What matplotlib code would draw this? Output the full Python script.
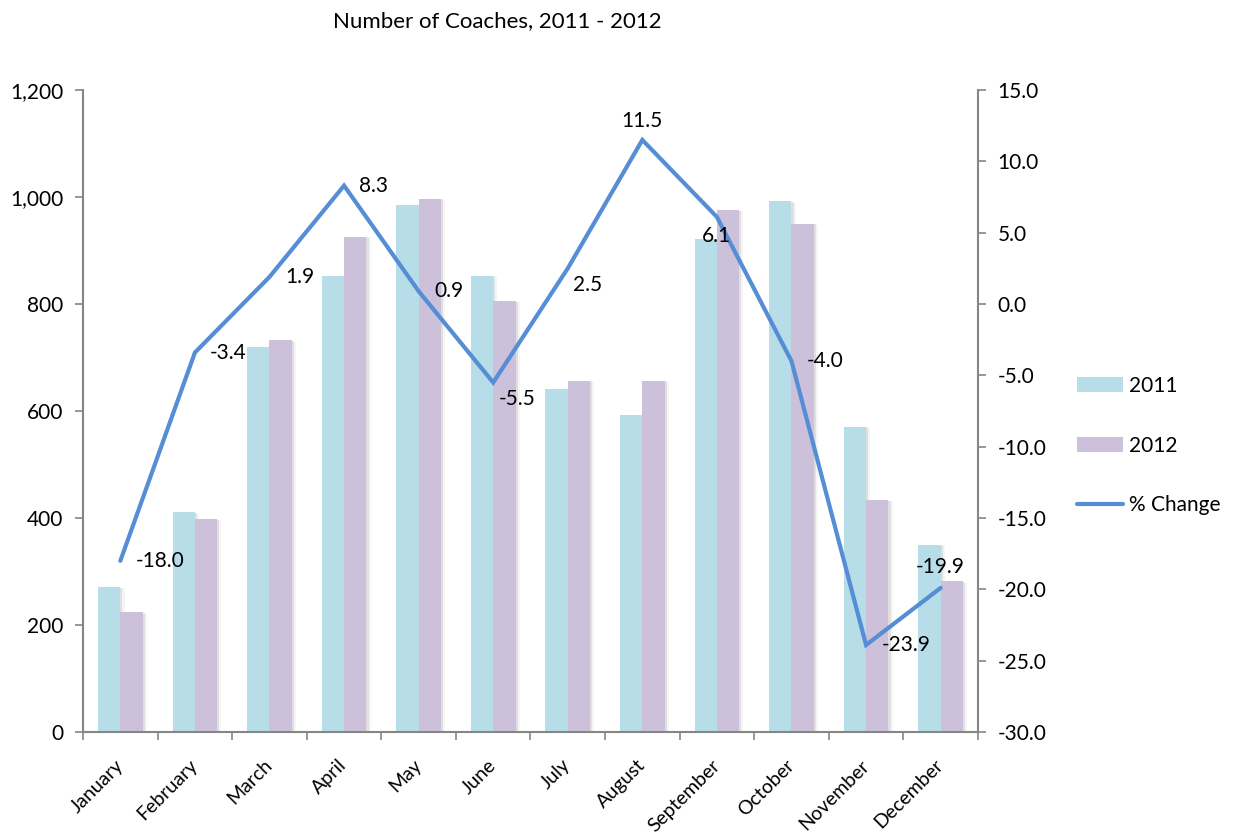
import matplotlib
matplotlib.use("Agg")
import matplotlib.pyplot as plt
import matplotlib.patheffects as pe
from matplotlib.patches import Patch
from matplotlib.lines import Line2D
from matplotlib.ticker import FuncFormatter, MultipleLocator
import numpy as np

plt.rcParams["font.family"] = ["Lato", "DejaVu Sans"]

# ---- data ----
months = ["January", "February", "March", "April", "May", "June", "July",
          "August", "September", "October", "November", "December"]
coaches_2011 = [271, 411, 719, 853, 986, 853, 641, 592, 921, 992, 571, 350]
coaches_2012 = [224, 398, 732, 926, 997, 806, 657, 657, 976, 950, 434, 282]
pct_change = [-18.0, -3.4, 1.9, 8.3, 0.9, -5.5, 2.5, 11.5, 6.1, -4.0, -23.9, -19.9]

# label offsets (points) relative to each line point
label_offsets = [(11, 0), (11, 0), (11, 0), (11, 0), (11, 0), (4, -12),
                 (4, -12), (0, 14), (0, -14), (11, 0), (11, 0), (0, 15)]
label_ha = ["left", "left", "left", "left", "left", "left",
            "left", "center", "center", "left", "left", "center"]

c2011 = "#B7DDE8"
c2012 = "#CCC0DA"
cline = "#558ED5"
axis_gray = "#868686"
fs = 15

fig = plt.figure(figsize=(12.36, 8.39), dpi=100)
ax = fig.add_axes([0.0672, 0.1275, 0.7240, 0.7652])
ax2 = ax.twinx()

x = np.arange(len(months))
w = 0.30
shadow = [pe.SimplePatchShadow(offset=(1.5, -0.5), shadow_rgbFace="#808080", alpha=0.18),
          pe.SimplePatchShadow(offset=(3.0, -1.0), shadow_rgbFace="#808080", alpha=0.08),
          pe.Normal()]
b1 = ax.bar(x - w / 2, coaches_2011, w, color=c2011, zorder=2)
b2 = ax.bar(x + w / 2, coaches_2012, w, color=c2012, zorder=2)
for r in list(b1) + list(b2):
    r.set_path_effects(shadow)

ax.set_xlim(-0.5, len(months) - 0.5)
ax.set_ylim(0, 1200)
ax.yaxis.set_major_locator(MultipleLocator(200))
ax.yaxis.set_major_formatter(FuncFormatter(lambda v, p: f"{v:,.0f}"))

ax2.plot(x, pct_change, color=cline, lw=3.0, solid_capstyle="round",
         solid_joinstyle="miter", zorder=3)
ax2.set_ylim(-30, 15)
ax2.yaxis.set_major_locator(MultipleLocator(5))
ax2.yaxis.set_major_formatter(FuncFormatter(lambda v, p: f"{v:.1f}"))

for xi, v, off, ha in zip(x, pct_change, label_offsets, label_ha):
    ax2.annotate(f"{v:.1f}", (xi, v), xytext=off, textcoords="offset points",
                 ha=ha, va="center", fontsize=fs, color="black")

# spines / ticks
for a in (ax, ax2):
    for s in a.spines.values():
        s.set_visible(False)
    a.tick_params(colors=axis_gray, labelcolor="black", labelsize=fs,
                  length=6, width=1.2, direction="out")
ax.spines["left"].set_visible(True)
ax.spines["bottom"].set_visible(True)
ax2.spines["right"].set_visible(True)
for s in (ax.spines["left"], ax.spines["bottom"], ax2.spines["right"]):
    s.set_color(axis_gray)
    s.set_linewidth(1.5)

ax.set_xticks(np.arange(-0.5, len(months), 1.0))
ax.set_xticklabels([])
ax.set_xticks(x, minor=True)
ax.set_xticklabels(months, minor=True, rotation=45, ha="right", va="center",
                   rotation_mode="anchor", fontsize=14)
ax.tick_params(axis="x", which="minor", length=0, pad=22)
ax.tick_params(axis="y", pad=8)
ax2.tick_params(axis="y", pad=8)

ax.set_zorder(ax2.get_zorder() - 1)
ax.patch.set_visible(False)

fig.text(0.402, 0.975, "Number of Coaches, 2011 - 2012", ha="center",
         va="center", fontsize=16)

handles = [Patch(facecolor=c2011, edgecolor="none"),
           Patch(facecolor=c2012, edgecolor="none"),
           Line2D([0], [0], color=cline, lw=3.0, solid_capstyle="round")]
fig.legend(handles, ["2011", "2012", "% Change"], loc="center left",
           bbox_to_anchor=(0.856, 0.469), frameon=False, fontsize=fs,
           labelspacing=1.9, handlelength=2.2, handletextpad=0.3)

fig.savefig("out.png", dpi=100)
